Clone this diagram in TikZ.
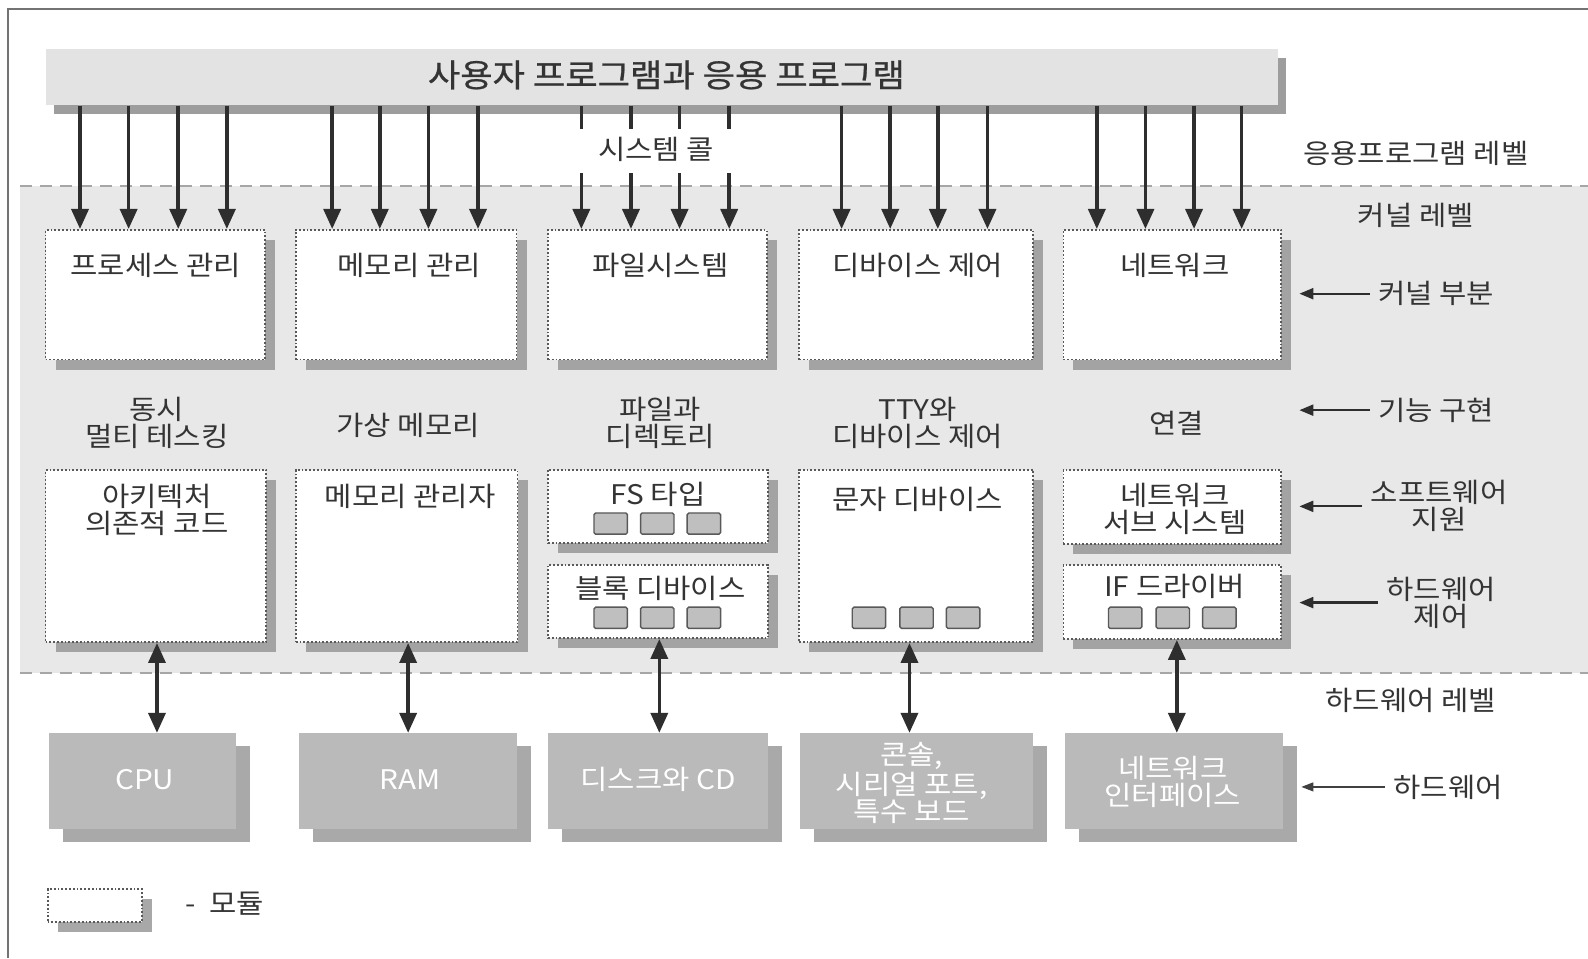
\documentclass[tikz,border=0pt]{standalone}
\usepackage{fontspec}
\setmainfont{Noto Sans CJK KR}[FakeStretch=1.1]
\newfontfamily\krb[FakeBold=0.8,FakeStretch=1.1]{Noto Sans CJK KR}
\usetikzlibrary{shadows,fit,arrows.meta}
\definecolor{ink}{HTML}{343434}
\tikzset{
  txt/.style={font=\fontsize{13.5}{13.5}\selectfont, text=ink, align=center, inner sep=0pt},
  side/.style={txt, inner sep=4pt},
  hwtxt/.style={font=\fontsize{13.5}{13.5}\selectfont, text=white, align=center, inner sep=0pt},
  module/.style={draw=black!65, densely dotted, line width=0.9pt, fill=white, inner sep=0pt,
    drop shadow={shadow xshift=5pt, shadow yshift=-5pt, fill=black!45, opacity=0.75}},
  hw/.style={fill=black!27, draw=none, inner sep=0pt,
    drop shadow={shadow xshift=7pt, shadow yshift=-6.5pt, fill=black!42, opacity=0.8}},
  bar/.style={fill=black!11, draw=none, inner sep=0pt,
    drop shadow={shadow xshift=4pt, shadow yshift=-4.5pt, fill=black!45, opacity=0.85}},
  sq/.style={draw=black!65, fill=black!25, line width=0.7pt, minimum width=16.7pt, minimum height=10.6pt, inner sep=0pt, rounded corners=0.8pt},
  arr/.style={line width=1.8pt, draw=black!82, -{Triangle[length=10pt,width=8.5pt]}},
  seg/.style={line width=1.8pt, draw=black!82},
  bi/.style={line width=1.8pt, draw=black!82, {Triangle[length=10pt,width=8.5pt]}-{Triangle[length=10pt,width=8.5pt]}},
  sarr/.style={line width=1.1pt, draw=black!82, -{Triangle[length=7pt,width=5.5pt]}},
  tarr/.style={line width=0.6pt, draw=black!75, -{Triangle[length=6pt,width=4.5pt]}},
  lvl/.style={draw=black!35, line width=1pt, dash pattern=on 6pt off 4pt},
  frame/.style={draw=black!55, line width=0.8pt}
}
\begin{document}
\begin{tikzpicture}[x=0.50638pt,y=-0.50638pt]
\useasboundingbox (0,0) rectangle (1568,946);
\fill[white] (0,0) rectangle (1568,946);
\draw[frame] (8,946) -- (8,9) -- (1568,9);
% kernel level background
\fill[black!9] (20,184) rectangle (1568,665);
\draw[lvl] (20,184) -- (1568,184);
\draw[lvl] (20,665) -- (1568,665);

% top bar
\node[bar, fit={(45,48)(1262,104)}] (app) {};
\node[txt, font=\fontsize{16}{16}\selectfont\krb] (appT) at (658,74) {사용자 프로그램과 응용 프로그램};

% row 1 modules
\node[module, fit={(45,227)(262,355)}] (pm) {};
\node[module, fit={(292,227)(510,355)}] (mem) {};
\node[module, fit={(541,227)(757,355)}] (fsys) {};
\node[module, fit={(789,227)(1020,355)}] (dev) {};
\node[module, fit={(1050,227)(1265,355)}] (netw) {};
\node[txt] (pmT) at (154,262) {프로세스 관리};
\node[txt] (memT) at (404,262) {메모리 관리};
\node[txt] (fsysT) at (652,262) {파일시스템};
\node[txt] (devT) at (906,262) {디바이스 제어};
\node[txt] (netwT) at (1160,262) {네트워크};

% row 2 texts
\node[txt] (f1) at (155,418) {동시\\멀티 테스킹};
\node[txt] (f2) at (403,420) {가상 메모리};
\node[txt] (f3) at (652,418) {파일과\\디렉토리};
\node[txt] (f4) at (906,418) {TTY와\\디바이스 제어};
\node[txt] (f5) at (1162,418) {연결};

% row 3 modules
\node[module, fit={(45,464)(263,634)}] (arch) {};
\node[module, fit={(292,464)(511,634)}] (mm) {};
\node[module, fit={(541,464)(758,536)}] (fst) {};
\node[module, fit={(541,558)(758,630)}] (blk) {};
\node[module, fit={(789,464)(1020,634)}] (chr) {};
\node[module, fit={(1050,464)(1265,537)}] (nss) {};
\node[module, fit={(1050,558)(1265,631)}] (ifd) {};
\node[txt] (archT) at (155,503) {아키텍처\\의존적 코드};
\node[txt] (mmT) at (405,490) {메모리 관리자};
\node[txt] (fstT) at (650,488) {FS 타입};
\node[txt] (blkT) at (652,581) {블록 디바이스};
\node[txt] (chrT) at (906,493) {문자 디바이스};
\node[txt] (nssT) at (1160,502) {네트워크\\서브 시스템};
\node[txt] (ifdT) at (1160,579) {IF 드라이버};

% small squares
\foreach \x [count=\i] in {603,649,695} {
  \node[sq] (fsq\i) at (\x,517) {};
  \node[sq] (bsq\i) at (\x,610) {};
}
\foreach \x [count=\i] in {858,905,951} \node[sq] (csq\i) at (\x,610) {};
\foreach \x [count=\i] in {1111,1158,1204} \node[sq] (isq\i) at (\x,610) {};

% hardware
\node[hw, fit={(48,724)(233,819)}] (cpu) {};
\node[hw, fit={(295,724)(510,819)}] (ram) {};
\node[hw, fit={(541,724)(758,819)}] (dsk) {};
\node[hw, fit={(790,724)(1020,819)}] (con) {};
\node[hw, fit={(1052,724)(1267,819)}] (nic) {};
\node[hwtxt] (cpuT) at (143,770) {CPU};
\node[hwtxt] (ramT) at (405,770) {RAM};
\node[hwtxt] (dskT) at (650,770) {디스크와 CD};
\node[hwtxt] (conT) at (900,773) {콘솔,\\시리얼 포트,\\특수 보드};
\node[hwtxt] (nicT) at (1158,772) {네트워크\\인터페이스};

% system call arrows
\foreach \x [count=\i] in {79,127,176,224} \coordinate (a\i) at (\x,0);
\foreach \x [count=\i] in {328,375,423,472} \coordinate (b\i) at (\x,0);
\foreach \x [count=\i] in {574,623,671,720} \coordinate (c\i) at (\x,0);
\foreach \x [count=\i] in {831,879,926,975} \coordinate (d\i) at (\x,0);
\foreach \x [count=\i] in {1083,1131,1179,1226} \coordinate (e\i) at (\x,0);
\coordinate (sc1) at (0,127);
\coordinate (sc2) at (0,171);
\foreach \i in {1,...,4} {
  \draw[arr] (app.south -| a\i) -- (pm.north -| a\i);
  \draw[arr] (app.south -| b\i) -- (mem.north -| b\i);
  \draw[seg] (app.south -| c\i) -- (sc1 -| c\i);
  \draw[arr] (sc2 -| c\i) -- (fsys.north -| c\i);
  \draw[arr] (app.south -| d\i) -- (dev.north -| d\i);
  \draw[arr] (app.south -| e\i) -- (netw.north -| e\i);
}
\node[txt] (sysc) at (648,148) {시스템 콜};

% hardware connections
\coordinate (h1) at (155,0);
\coordinate (h2) at (403,0);
\coordinate (h3) at (651,0);
\coordinate (h4) at (898,0);
\coordinate (h5) at (1162,0);
\draw[bi] (arch.south -| h1) -- (cpu.north -| h1);
\draw[bi] (mm.south -| h2) -- (ram.north -| h2);
\draw[bi] (blk.south -| h3) -- (dsk.north -| h3);
\draw[bi] (chr.south -| h4) -- (con.north -| h4);
\draw[bi] (ifd.south -| h5) -- (nic.north -| h5);

% level labels
\node[txt] (lapp) at (1398,151) {응용프로그램 레벨};
\node[txt] (lker) at (1398,213) {커널 레벨};
\node[txt] (lhw) at (1393,692) {하드웨어 레벨};

% side labels
\node[side] (s1) at (1418,290) {커널 부분};
\node[side] (s2) at (1418,405) {기능 구현};
\node[side] (s3) at (1421,500) {소프트웨어\\지원};
\node[side] (s4) at (1423,595) {하드웨어\\제어};
\node[side] (s5) at (1430,777) {하드웨어};
\coordinate (t1) at (1283,290);
\coordinate (t2) at (1283,405);
\coordinate (t3) at (1283,500);
\coordinate (t4) at (1283,595);
\coordinate (t5) at (1285,777);
\draw[sarr] (s1) -- (t1);
\draw[sarr] (s2) -- (t2);
\draw[sarr] (s3) -- (t3);
\draw[sarr] (s4) -- (t4);
\draw[tarr] (s5) -- (t5);

% legend
\node[module, fit={(47,878)(140,910)}] (leg) {};
\node[txt, anchor=west] (legT) at (183,892) {-\enspace 모듈};
\end{tikzpicture}
\end{document}
